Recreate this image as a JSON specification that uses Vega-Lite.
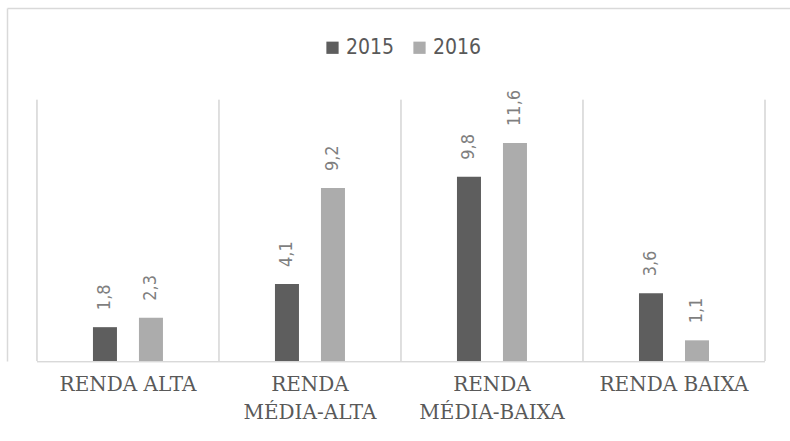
{
  "$schema": "https://vega.github.io/schema/vega-lite/v6.json",
  "width": 783,
  "height": 353,
  "autosize": {"type": "none"},
  "padding": {"left": 7, "top": 8, "right": 0, "bottom": 80},
  "background": "white",
  "config": {
    "view": {"stroke": null},
    "locale": {"number": {"decimal": ",", "thousands": ".", "grouping": [3], "currency": ["", " €"]}},
    "legend": {
      "orient": "none",
      "legendX": 315,
      "legendY": 29,
      "direction": "horizontal",
      "title": null,
      "symbolType": "square",
      "symbolSize": 150,
      "symbolStrokeWidth": 0,
      "labelFont": "DejaVu Sans Condensed, Liberation Sans Narrow, Roboto",
      "labelFontSize": 21,
      "labelColor": "#595959",
      "labelOffset": 3,
      "columnPadding": 14
    }
  },
  "data": {
    "values": [
      {"cat": "RENDA ALTA", "year": "2015", "value": 1.8},
      {"cat": "RENDA ALTA", "year": "2016", "value": 2.3},
      {"cat": "RENDA MÉDIA-ALTA", "year": "2015", "value": 4.1},
      {"cat": "RENDA MÉDIA-ALTA", "year": "2016", "value": 9.2},
      {"cat": "RENDA MÉDIA-BAIXA", "year": "2015", "value": 9.8},
      {"cat": "RENDA MÉDIA-BAIXA", "year": "2016", "value": 11.6},
      {"cat": "RENDA BAIXA", "year": "2015", "value": 3.6},
      {"cat": "RENDA BAIXA", "year": "2016", "value": 1.1}
    ]
  },
  "resolve": {"axis": {"x": "independent"}},
  "layer": [
    {
      "mark": {"type": "bar", "color": "#d9d9d9"},
      "encoding": {
        "x": {
          "field": "cat", "type": "nominal", "sort": null,
          "scale": {"type": "band", "paddingInner": 0, "paddingOuter": 0.151, "align": 0.545},
          "axis": {
            "orient": "bottom", "title": null, "domain": false, "ticks": false, "labelAngle": 0,
            "labelFont": "DejaVu Serif", "labelFontSize": 20, "labelColor": "#595959",
            "labelPadding": 13, "labelBaseline": "top", "labelLineHeight": 28,
            "labelExpr": "indexof(datum.label, 'MÉDIA') >= 0 ? split(datum.label, ' ') : datum.label"
          }
        },
        "y": {"datum": 0, "type": "quantitative", "scale": {"domain": [0, 18.78], "nice": false},
              "axis": {"title": null, "labels": false, "ticks": false, "grid": false, "domain": true, "domainColor": "#d9d9d9", "domainWidth": 1.5}},
        "y2": {"datum": -0.06}
      }
    },
    {
      "mark": {"type": "rule", "color": "#d9d9d9", "strokeWidth": 1.2},
      "encoding": {
        "x": {"field": "cat", "type": "nominal", "sort": null, "bandPosition": 0,
              "axis": {"orient": "top", "title": null, "labels": false, "ticks": false, "grid": false, "domain": true, "domainColor": "#d9d9d9", "domainWidth": 1.5}},
        "y": {"datum": 0, "type": "quantitative"},
        "y2": {"datum": 13.9}
      }
    },
    {
      "transform": [{"filter": "datum.cat == 'RENDA BAIXA'"}],
      "mark": {"type": "rule", "color": "#d9d9d9", "strokeWidth": 1.2},
      "encoding": {
        "x": {"field": "cat", "type": "nominal", "sort": null, "bandPosition": 1, "axis": null},
        "y": {"datum": 0, "type": "quantitative"},
        "y2": {"datum": 13.9}
      }
    },
    {
      "mark": {"type": "bar"},
      "encoding": {
        "x": {"field": "cat", "type": "nominal", "sort": null, "axis": null},
        "xOffset": {"field": "year", "type": "nominal", "scale": {"type": "band", "range": [56, 126], "paddingInner": 0.478, "paddingOuter": 0}},
        "y": {"field": "value", "type": "quantitative"},
        "color": {"field": "year", "type": "nominal", "scale": {"domain": ["2015", "2016"], "range": ["#5e5e5e", "#acacac"]}}
      }
    },
    {
      "mark": {"type": "text", "angle": 270, "align": "left", "baseline": "middle", "dx": 17,
               "font": "DejaVu Sans Condensed, Liberation Sans Narrow, Roboto", "fontSize": 18, "color": "#7f7f7f"},
      "encoding": {
        "x": {"field": "cat", "type": "nominal", "sort": null, "axis": null},
        "xOffset": {"field": "year", "type": "nominal"},
        "y": {"field": "value", "type": "quantitative"},
        "text": {"field": "value", "type": "quantitative", "format": ".1f"}
      }
    }
  ]
}
